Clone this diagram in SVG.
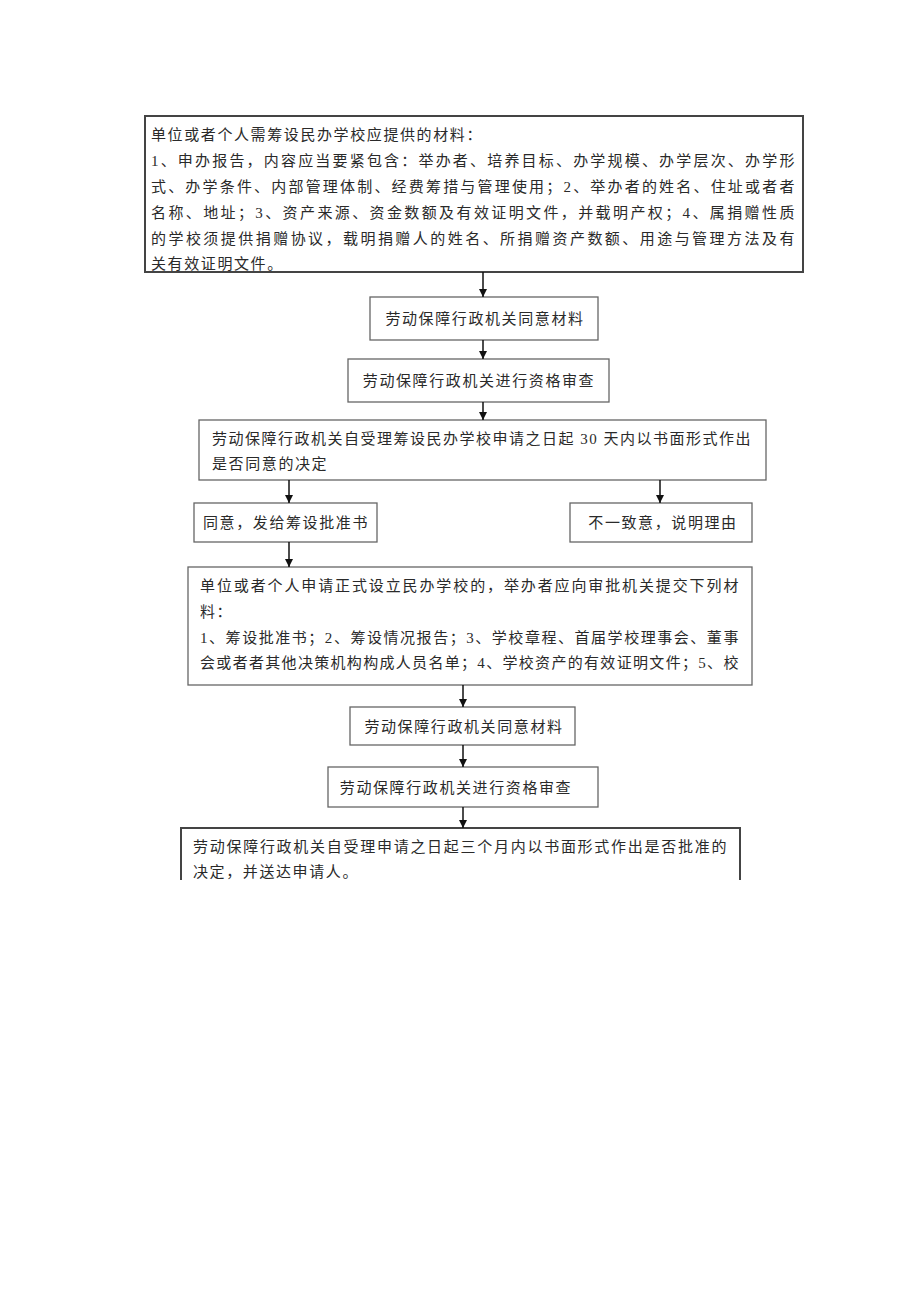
<svg xmlns="http://www.w3.org/2000/svg" width="920" height="1301" viewBox="0 0 920 1301">
<defs>
<marker id="ah" viewBox="0 0 10 10" refX="10" refY="5" markerWidth="8" markerHeight="8" orient="auto" markerUnits="userSpaceOnUse">
<path d="M0,0 L10,5 L0,10 z" fill="#111"/>
</marker>
<style>
.bx{fill:#fff;stroke:#666;stroke-width:1.3}
.bxd{fill:#fff;stroke:#444;stroke-width:2}
.t{font-family:"Liberation Serif","Noto Sans CJK SC",serif;font-size:15px;fill:#2a2a2a;letter-spacing:1.6px}
.c{stroke:#111;stroke-width:1.5;fill:none;marker-end:url(#ah)}
</style>
</defs>
<rect width="920" height="1301" fill="#fff"/>
<g id="n1">
<rect class="bxd" x="145" y="116" width="658" height="156"/>
<text class="t" x="151" y="140">单位或者个人需筹设民办学校应提供的材料：</text>
<text class="t" x="151" y="166" textLength="645" lengthAdjust="spacing">1、申办报告，内容应当要紧包含：举办者、培养目标、办学规模、办学层次、办学形</text>
<text class="t" x="151" y="192" textLength="645" lengthAdjust="spacing">式、办学条件、内部管理体制、经费筹措与管理使用；2、举办者的姓名、住址或者者</text>
<text class="t" x="151" y="218" textLength="645" lengthAdjust="spacing">名称、地址；3、资产来源、资金数额及有效证明文件，并载明产权；4、属捐赠性质</text>
<text class="t" x="151" y="244" textLength="645" lengthAdjust="spacing">的学校须提供捐赠协议，载明捐赠人的姓名、所捐赠资产数额、用途与管理方法及有</text>
<text class="t" x="151" y="269">关有效证明文件。</text>
</g>
<g id="n2">
<rect class="bx" x="370" y="297" width="228" height="43"/>
<text class="t" x="485" y="324" text-anchor="middle">劳动保障行政机关同意材料</text>
</g>
<g id="n3">
<rect class="bx" x="348" y="359" width="261" height="43"/>
<text class="t" x="479" y="386" text-anchor="middle">劳动保障行政机关进行资格审查</text>
</g>
<g id="n4">
<rect class="bx" x="199" y="420" width="567" height="60"/>
<text class="t" x="212" y="444" textLength="540" lengthAdjust="spacing">劳动保障行政机关自受理筹设民办学校申请之日起 30 天内以书面形式作出</text>
<text class="t" x="212" y="469">是否同意的决定</text>
</g>
<g id="n5">
<rect class="bx" x="194" y="503" width="183" height="39"/>
<text class="t" x="286" y="528" text-anchor="middle">同意，发给筹设批准书</text>
</g>
<g id="n6">
<rect class="bx" x="570" y="503" width="182" height="39"/>
<text class="t" x="663" y="528" text-anchor="middle">不一致意，说明理由</text>
</g>
<g id="n7">
<rect class="bx" x="188" y="567" width="564" height="118"/>
<text class="t" x="200" y="591" textLength="540" lengthAdjust="spacing">单位或者个人申请正式设立民办学校的，举办者应向审批机关提交下列材</text>
<text class="t" x="200" y="617">料：</text>
<text class="t" x="200" y="643" textLength="540" lengthAdjust="spacing">1、筹设批准书；2、筹设情况报告；3、学校章程、首届学校理事会、董事</text>
<text class="t" x="200" y="668" textLength="540" lengthAdjust="spacing">会或者者其他决策机构构成人员名单；4、学校资产的有效证明文件；5、校</text>
</g>
<g id="n8">
<rect class="bx" x="350" y="707" width="225" height="38"/>
<text class="t" x="464" y="732" text-anchor="middle">劳动保障行政机关同意材料</text>
</g>
<g id="n9">
<rect class="bx" x="328" y="767" width="270" height="40"/>
<text class="t" x="456" y="793" text-anchor="middle">劳动保障行政机关进行资格审查</text>
</g>
<g id="n10">
<path class="bxd" d="M181,880 V828 H740 V880"/>
<text class="t" x="193" y="852" textLength="535" lengthAdjust="spacing">劳动保障行政机关自受理申请之日起三个月内以书面形式作出是否批准的</text>
<text class="t" x="193" y="877">决定，并送达申请人。</text>
</g>
<g id="connectors">
<line class="c" x1="483" y1="272" x2="483" y2="297"/>
<line class="c" x1="483" y1="340" x2="483" y2="359"/>
<line class="c" x1="483" y1="402" x2="483" y2="420"/>
<line class="c" x1="289" y1="480" x2="289" y2="503"/>
<line class="c" x1="660" y1="480" x2="660" y2="503"/>
<line class="c" x1="289" y1="542" x2="289" y2="567"/>
<line class="c" x1="463" y1="685" x2="463" y2="707"/>
<line class="c" x1="463" y1="745" x2="463" y2="767"/>
<line class="c" x1="463" y1="807" x2="463" y2="828"/>
</g>
</svg>
